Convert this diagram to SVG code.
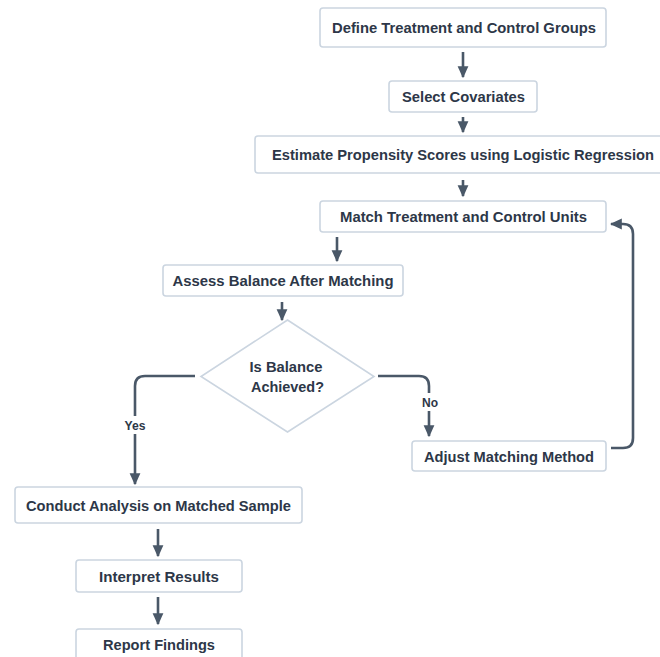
<svg xmlns="http://www.w3.org/2000/svg" width="660" height="657" viewBox="0 0 660 657">
<defs>
<style>
.box{fill:#ffffff;stroke:#cbd5e0;stroke-width:1.6}
.t{font-family:"Liberation Sans",Arial,sans-serif;font-weight:bold;font-size:15px;fill:#2d3748;text-anchor:middle}
.lbl{font-family:"Liberation Sans",Arial,sans-serif;font-weight:bold;font-size:13px;fill:#2d3748;text-anchor:middle}
.c{fill:none;stroke:#4a5868;stroke-width:2.6;marker-end:url(#ah)}
.lb{fill:#ffffff}
</style>
<marker id="ah" markerUnits="userSpaceOnUse" markerWidth="12" markerHeight="12" viewBox="0 0 10 10" refX="9" refY="5" orient="auto">
<path d="M0,0.5 L10,5 L0,9.5 z" fill="#4a5868"/>
</marker>
</defs>
<rect width="660" height="657" fill="#ffffff"/>
<g id="connectors">
<path class="c" d="M463,52 V77"/>
<path class="c" d="M463,117 V132"/>
<path class="c" d="M463,180 V196"/>
<path class="c" d="M337,237 V261"/>
<path class="c" d="M282,302 V320"/>
<path class="c" d="M195,376 H145 Q135,376 135,386 V484"/>
<path class="c" d="M378,376 H419 Q429,376 429,386 V436"/>
<path class="c" d="M611,448 H623 Q633,448 633,438 V234 Q633,224 623,224 H611"/>
<path class="c" d="M158,529 V556"/>
<path class="c" d="M158,597 V624"/>
<rect class="lb" x="122" y="416" width="27" height="18"/>
<text class="lbl" x="135" y="430" textLength="21" lengthAdjust="spacingAndGlyphs">Yes</text>
<rect class="lb" x="419" y="393" width="21" height="18"/>
<text class="lbl" x="430" y="407" textLength="16" lengthAdjust="spacingAndGlyphs">No</text>
</g>
<g id="n1"><rect class="box" x="320" y="8" width="286" height="39" rx="3"/><text class="t" x="464" y="33" textLength="264" lengthAdjust="spacingAndGlyphs">Define Treatment and Control Groups</text></g>
<g id="n2"><rect class="box" x="389" y="81" width="148" height="31" rx="3"/><text class="t" x="463.5" y="102" textLength="123" lengthAdjust="spacingAndGlyphs">Select Covariates</text></g>
<g id="n3"><rect class="box" x="255" y="136" width="416" height="37" rx="3"/><text class="t" x="463" y="160" textLength="382" lengthAdjust="spacingAndGlyphs">Estimate Propensity Scores using Logistic Regression</text></g>
<g id="n4"><rect class="box" x="320" y="201" width="286" height="31" rx="3"/><text class="t" x="463.5" y="222" textLength="247" lengthAdjust="spacingAndGlyphs">Match Treatment and Control Units</text></g>
<g id="n5"><rect class="box" x="163" y="265" width="240" height="31" rx="3"/><text class="t" x="283" y="286" textLength="221" lengthAdjust="spacingAndGlyphs">Assess Balance After Matching</text></g>
<g id="n6"><path class="box" d="M287.5,320 L374,376.5 L287.5,432 L201,376.5 Z"/><text class="t" x="286" y="371.5" textLength="73" lengthAdjust="spacingAndGlyphs">Is Balance</text><text class="t" x="287.5" y="392" textLength="73" lengthAdjust="spacingAndGlyphs">Achieved?</text></g>
<g id="n7"><rect class="box" x="412" y="441" width="194" height="30" rx="3"/><text class="t" x="509" y="461.5" textLength="170" lengthAdjust="spacingAndGlyphs">Adjust Matching Method</text></g>
<g id="n8"><rect class="box" x="15" y="487" width="287" height="36" rx="3"/><text class="t" x="158.5" y="510.5" textLength="265" lengthAdjust="spacingAndGlyphs">Conduct Analysis on Matched Sample</text></g>
<g id="n9"><rect class="box" x="76" y="560" width="166" height="32" rx="3"/><text class="t" x="159" y="581.5" textLength="120" lengthAdjust="spacingAndGlyphs">Interpret Results</text></g>
<g id="n10"><rect class="box" x="76" y="629" width="166" height="36" rx="3"/><text class="t" x="159" y="650" textLength="112" lengthAdjust="spacingAndGlyphs">Report Findings</text></g>
</svg>
